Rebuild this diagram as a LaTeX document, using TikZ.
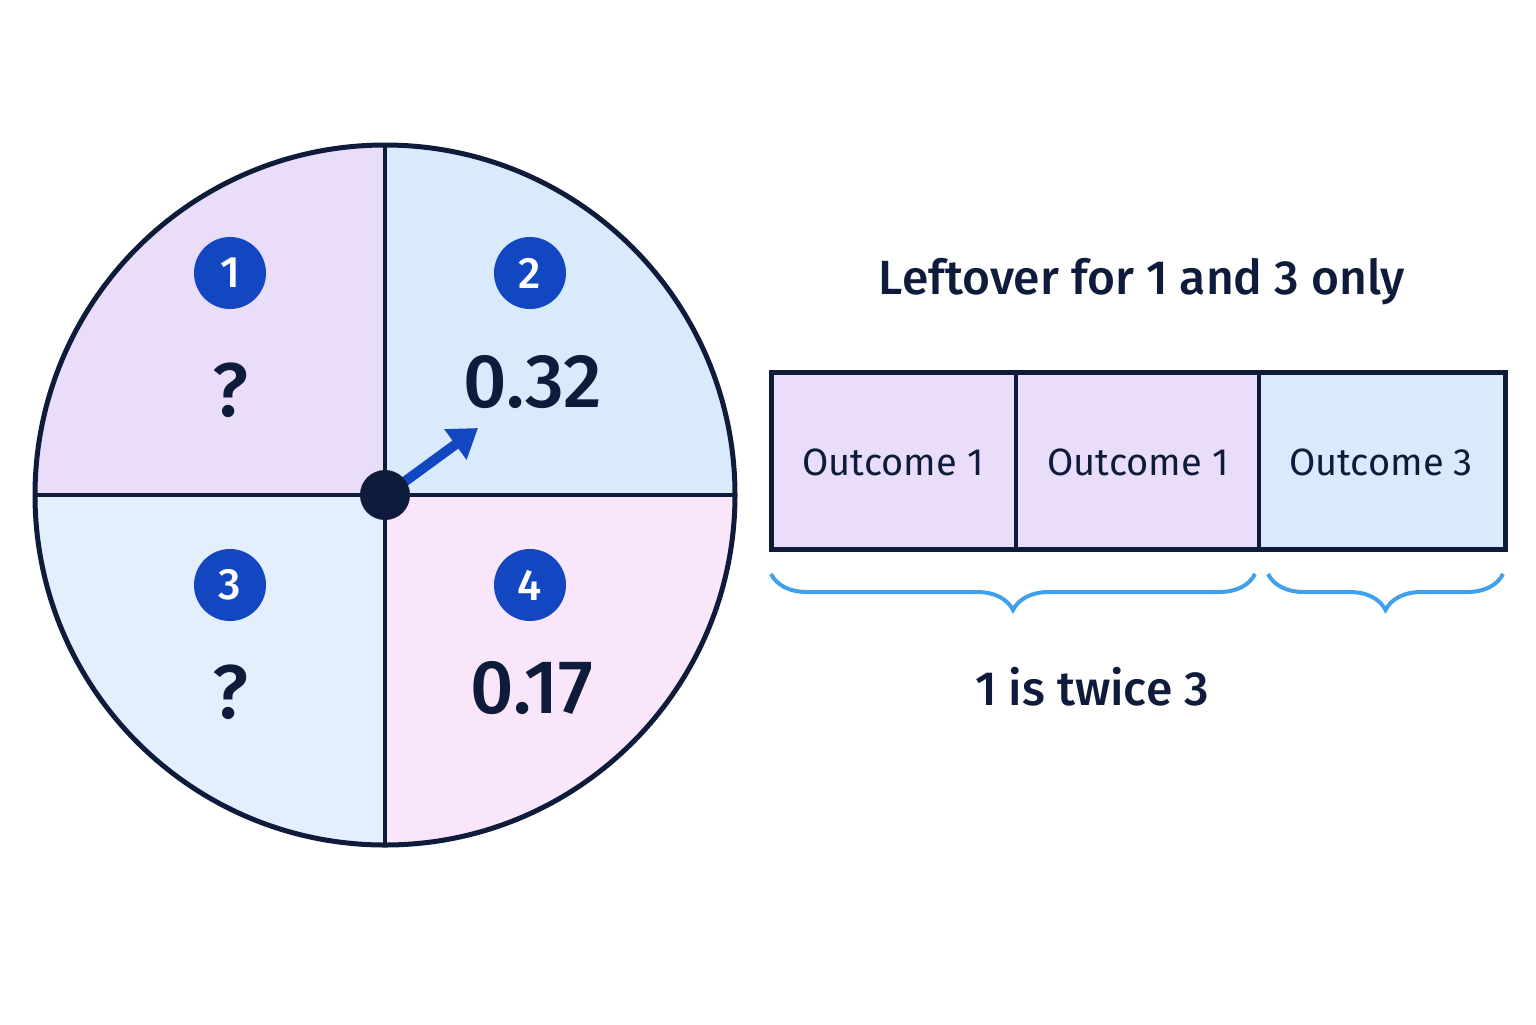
\documentclass[tikz,border=0pt]{standalone}
\usepackage{fontspec}
\setmainfont{Fira Sans}[BoldFont=* Medium]
\usetikzlibrary{decorations.pathreplacing,arrows.meta}
\definecolor{navy}{HTML}{0F1B3A}
\definecolor{lav}{HTML}{EADDF9}
\definecolor{lblue}{HTML}{D8EAFB}
\definecolor{lblue2}{HTML}{E3EFFC}
\definecolor{pink}{HTML}{F9E6FA}
\definecolor{badgec}{HTML}{1347C2}
\definecolor{brc}{HTML}{3FA0EE}
\newcommand{\fs}[1]{\fontsize{#1}{#1}\selectfont\bfseries}
\newcommand{\fr}[1]{\fontsize{#1}{#1}\selectfont}
\begin{document}
\begin{tikzpicture}[x=0.5pt,y=-0.5pt,
  badge/.style={circle,fill=badgec,text=white,minimum size=36pt,inner sep=0,font=\fs{22}},
  big/.style={text=navy,font=\fs{38}},
  lbl/.style={text=navy,font=\fr{19}},
  brace/.style={draw=brc,line width=2pt,decorate,decoration={brace,amplitude=18pt}}]
\useasboundingbox (0,0) rectangle (1536,1024);
\fill[lav] (385,495) -- (35,495) arc[start angle=180,end angle=270,radius=350] -- cycle;
\fill[lblue] (385,495) -- (385,145) arc[start angle=270,end angle=360,radius=350] -- cycle;
\fill[pink] (385,495) -- (735,495) arc[start angle=0,end angle=90,radius=350] -- cycle;
\fill[lblue2] (385,495) -- (385,845) arc[start angle=90,end angle=180,radius=350] -- cycle;
\draw[navy,line width=2.5pt] (385,495) circle[radius=350];
\draw[navy,line width=1.8pt] (35,495) -- (735,495) (385,145) -- (385,845);
\node[badge] (b1) at (230,273) {1};
\node[badge] (b2) at (530,273) {2};
\node[badge] (b3) at (230,585) {3};
\node[badge] (b4) at (530,585) {4};
\node[big] (q1) at (230,390) {?};
\node[big] (v2) at (533,382) {0.32};
\node[big] (q3) at (230,692) {?};
\node[big] (v4) at (532,688) {0.17};
\coordinate (as) at (400,485);
\coordinate (ae) at (478,428);
\draw[draw=badgec,fill=badgec,line width=5pt,-{Triangle[length=14pt,width=18pt]}] (as) -- (ae);
\node[circle,fill=navy,minimum size=25pt,inner sep=0] (c) at (385,495) {};
\fill[lav] (771,372) rectangle (1259,549);
\fill[lblue] (1259,372) rectangle (1505,549);
\draw[navy,line width=2.5pt] (771,372) rectangle (1505,549);
\draw[navy,line width=2pt] (1016,372) -- (1016,549) (1259,372) -- (1259,549);
\node[lbl] (o1) at (893,462) {Outcome 1};
\node[lbl] (o2) at (1138,462) {Outcome 1};
\node[lbl] (o3) at (1381,462) {Outcome 3};
\node[text=navy,font=\fs{24}] (t) at (1142,282) {Leftover for 1 and 3 only};
\node[text=navy,font=\fs{24}] (t2) at (1092,687) {1 is twice 3};
\draw[brace] (1255,574) -- (771,574);
\draw[brace] (1503,574) -- (1268,574);
\end{tikzpicture}
\end{document}
